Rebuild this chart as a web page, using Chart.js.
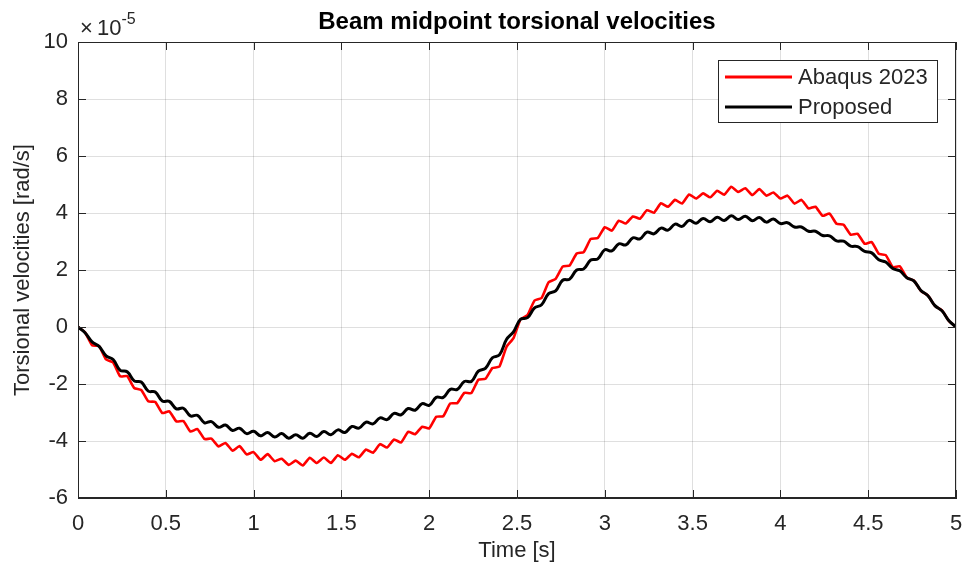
<!DOCTYPE html>
<html>
<head>
<meta charset="utf-8">
<script src="https://cdn.jsdelivr.net/npm/chart.js@4.4.1/dist/chart.umd.min.js"></script>
<style>
  body { margin: 0; background: #fff; }
  #wrap { width: 965px; height: 566px; }
</style>
</head>
<body>
<div id="wrap"><canvas id="myChart" width="965" height="566"></canvas></div>
<script>
// time axis [s]
const times = [
  0, 0.04, 0.08, 0.12, 0.16, 0.2, 0.24, 0.28, 0.32, 0.36,
  0.4, 0.44, 0.48, 0.52, 0.56, 0.6, 0.64, 0.68, 0.72, 0.76,
  0.8, 0.84, 0.88, 0.92, 0.96, 1, 1.04, 1.08, 1.12, 1.16,
  1.2, 1.24, 1.28, 1.32, 1.36, 1.4, 1.44, 1.48, 1.52, 1.56,
  1.6, 1.64, 1.68, 1.72, 1.76, 1.8, 1.84, 1.88, 1.92, 1.96,
  2, 2.04, 2.08, 2.12, 2.16, 2.2, 2.24, 2.28, 2.32, 2.36,
  2.4, 2.44, 2.48, 2.52, 2.56, 2.6, 2.64, 2.68, 2.72, 2.76,
  2.8, 2.84, 2.88, 2.92, 2.96, 3, 3.04, 3.08, 3.12, 3.16,
  3.2, 3.24, 3.28, 3.32, 3.36, 3.4, 3.44, 3.48, 3.52, 3.56,
  3.6, 3.64, 3.68, 3.72, 3.76, 3.8, 3.84, 3.88, 3.92, 3.96,
  4, 4.04, 4.08, 4.12, 4.16, 4.2, 4.24, 4.28, 4.32, 4.36,
  4.4, 4.44, 4.48, 4.52, 4.56, 4.6, 4.64, 4.68, 4.72, 4.76,
  4.8, 4.84, 4.88, 4.92, 4.96, 5
];

// torsional velocities, x 1e-5 rad/s
const abaqus = [
  0, -0.19, -0.64, -0.67, -1.14, -1.24, -1.73, -1.72, -2.14, -2.21,
  -2.61, -2.63, -3.02, -2.96, -3.31, -3.30, -3.67, -3.58, -3.93, -3.92,
  -4.19, -4.07, -4.34, -4.18, -4.47, -4.39, -4.66, -4.46, -4.71, -4.62,
  -4.84, -4.69, -4.86, -4.59, -4.77, -4.58, -4.77, -4.50, -4.66, -4.45,
  -4.57, -4.30, -4.41, -4.11, -4.23, -3.95, -4.05, -3.68, -3.76, -3.50,
  -3.56, -3.15, -3.13, -2.68, -2.67, -2.31, -2.32, -1.85, -1.82, -1.44,
  -1.39, -0.70, -0.39, 0.27, 0.42, 0.93, 1.02, 1.57, 1.69, 2.12,
  2.16, 2.58, 2.63, 3.09, 3.12, 3.50, 3.38, 3.73, 3.63, 3.88,
  3.80, 4.10, 4.01, 4.34, 4.22, 4.46, 4.33, 4.65, 4.51, 4.69,
  4.55, 4.78, 4.64, 4.92, 4.74, 4.87, 4.63, 4.84, 4.61, 4.72,
  4.51, 4.61, 4.33, 4.46, 4.16, 4.22, 3.90, 3.98, 3.62, 3.59,
  3.24, 3.27, 2.92, 2.98, 2.57, 2.52, 2.10, 2.13, 1.73, 1.63,
  1.27, 1.11, 0.74, 0.58, 0.21, 0
];

const proposed = [
  0, -0.20, -0.52, -0.68, -1.01, -1.14, -1.52, -1.57, -1.89, -1.93,
  -2.25, -2.28, -2.60, -2.61, -2.87, -2.85, -3.12, -3.10, -3.36, -3.32,
  -3.52, -3.44, -3.63, -3.55, -3.74, -3.66, -3.82, -3.70, -3.86, -3.74,
  -3.90, -3.78, -3.90, -3.73, -3.84, -3.67, -3.78, -3.61, -3.70, -3.49,
  -3.55, -3.34, -3.40, -3.19, -3.25, -3.03, -3.08, -2.86, -2.92, -2.69,
  -2.75, -2.47, -2.47, -2.19, -2.19, -1.91, -1.91, -1.55, -1.45, -1.08,
  -0.98, -0.44, -0.17, 0.27, 0.33, 0.67, 0.78, 1.17, 1.27, 1.64,
  1.68, 2.00, 2.04, 2.35, 2.39, 2.71, 2.67, 2.92, 2.88, 3.13,
  3.09, 3.33, 3.27, 3.47, 3.40, 3.61, 3.53, 3.74, 3.64, 3.81,
  3.69, 3.85, 3.74, 3.90, 3.77, 3.89, 3.73, 3.84, 3.68, 3.79,
  3.63, 3.66, 3.51, 3.51, 3.36, 3.36, 3.21, 3.20, 3.02, 3.01,
  2.84, 2.82, 2.65, 2.60, 2.36, 2.28, 2.05, 1.97, 1.73, 1.62,
  1.28, 1.10, 0.75, 0.57, 0.22, 0
];

const xTicks = [0, 0.5, 1, 1.5, 2, 2.5, 3, 3.5, 4, 4.5, 5];
const yTicks = [-6, -4, -2, 0, 2, 4, 6, 8, 10];

const FONT = '"Liberation Sans", Arial, Helvetica, sans-serif';
const AX = '#262626';
const GRID = 'rgba(38,38,38,0.15)';

const toXY = (vals) => vals.map((v, i) => ({ x: times[i], y: v }));

// box, inward ticks, title, exponent and legend (MATLAB look)
const matlabAxes = {
  id: 'matlabAxes',
  afterDatasetsDraw(chart) {
    const { ctx, chartArea: a, scales: { x, y } } = chart;
    ctx.save();
    ctx.strokeStyle = AX;
    ctx.lineWidth = 1;
    ctx.strokeRect(Math.round(a.left) + 0.5, Math.round(a.top) + 0.5,
      Math.round(a.width) - 1, Math.round(a.height) - 1);
    ctx.beginPath();
    xTicks.forEach((v) => {
      const px = Math.round(x.getPixelForValue(v)) + 0.5;
      ctx.moveTo(px, a.bottom); ctx.lineTo(px, a.bottom - 8);
      ctx.moveTo(px, a.top); ctx.lineTo(px, a.top + 8);
    });
    yTicks.forEach((v) => {
      const py = Math.round(y.getPixelForValue(v)) + 0.5;
      ctx.moveTo(a.left, py); ctx.lineTo(a.left + 8, py);
      ctx.moveTo(a.right, py); ctx.lineTo(a.right - 8, py);
    });
    ctx.stroke();
    ctx.restore();
  },
  afterDraw(chart) {
    const { ctx, chartArea: a } = chart;
    ctx.save();
    // title
    ctx.fillStyle = '#000';
    ctx.font = 'bold 24px ' + FONT;
    ctx.textAlign = 'center';
    ctx.textBaseline = 'middle';
    ctx.fillText('Beam midpoint torsional velocities', (a.left + a.right) / 2, 22);

    // exponent label
    ctx.fillStyle = AX;
    ctx.textAlign = 'left';
    ctx.textBaseline = 'alphabetic';
    ctx.font = '22px ' + FONT;
    ctx.fillText('\u00d7', a.left + 2, 35);
    ctx.fillText('10', a.left + 19, 35);
    const w = ctx.measureText('10').width;
    ctx.font = '16px ' + FONT;
    ctx.fillText('-5', a.left + 19 + w, 24);

    // legend
    const lx = 718, ly = 60, lw = 219, lh = 62;
    ctx.fillStyle = '#fff';
    ctx.fillRect(lx, ly, lw, lh);
    ctx.strokeStyle = AX;
    ctx.lineWidth = 1;
    ctx.strokeRect(lx + 0.5, ly + 0.5, lw, lh);
    const items = [
      { label: 'Abaqus 2023', color: '#ff0000', y: 77 },
      { label: 'Proposed', color: '#000000', y: 107 }
    ];
    ctx.font = '22px ' + FONT;
    ctx.textBaseline = 'middle';
    items.forEach((it) => {
      ctx.strokeStyle = it.color;
      ctx.lineWidth = 3;
      ctx.beginPath();
      ctx.moveTo(725, it.y);
      ctx.lineTo(792, it.y);
      ctx.stroke();
      ctx.fillStyle = AX;
      ctx.fillText(it.label, 798, it.y + 1);
    });
    ctx.restore();
  }
};

const ctx = document.getElementById('myChart');

const config = {
  type: 'line',
  data: {
    datasets: [
      {
        label: 'Abaqus 2023',
        data: toXY(abaqus),
        borderColor: '#ff0000',
        borderWidth: 2.6,
        pointRadius: 0,
        tension: 0.15,
        order: 1
      },
      {
        label: 'Proposed',
        data: toXY(proposed),
        borderColor: '#000000',
        borderWidth: 3,
        pointRadius: 0,
        tension: 0.4,
        order: 0
      }
    ]
  },
  options: {
    responsive: false,
    animation: false,
    layout: { padding: { left: 0, right: 9, top: 42, bottom: 0 } },
    plugins: {
      legend: { display: false },
      tooltip: { enabled: false },
      title: { display: false }
    },
    scales: {
      x: {
        type: 'linear',
        min: 0,
        max: 5,
        afterBuildTicks: (s) => { s.ticks = xTicks.map((v) => ({ value: v })); },
        afterFit: (s) => { s.height = 68; s.paddingLeft = 0; s.paddingRight = 0; },
        grid: { color: GRID, drawTicks: false },
        border: { color: AX },
        ticks: {
          color: AX, font: { size: 22, family: FONT }, padding: 13, maxRotation: 0,
          callback: (v) => String(+v.toFixed(1))
        },
        title: {
          display: true, text: 'Time [s]', color: AX,
          font: { size: 22, family: FONT }, padding: { top: 0, bottom: 2 }
        }
      },
      y: {
        type: 'linear',
        min: -6,
        max: 10,
        afterBuildTicks: (s) => { s.ticks = yTicks.map((v) => ({ value: v })); },
        afterFit: (s) => { s.width = 78; s.paddingTop = 0; s.paddingBottom = 0; },
        grid: { color: GRID, drawTicks: false },
        border: { color: AX },
        ticks: {
          color: AX, font: { size: 22, family: FONT }, padding: 10,
          callback: (v) => String(v)
        },
        title: {
          display: true, text: 'Torsional velocities [rad/s]', color: AX,
          font: { size: 22, family: FONT }, padding: { top: 10, bottom: 0 }
        }
      }
    }
  },
  plugins: [matlabAxes]
};

let myChart = new Chart(ctx, config);
</script>
</body>
</html>
